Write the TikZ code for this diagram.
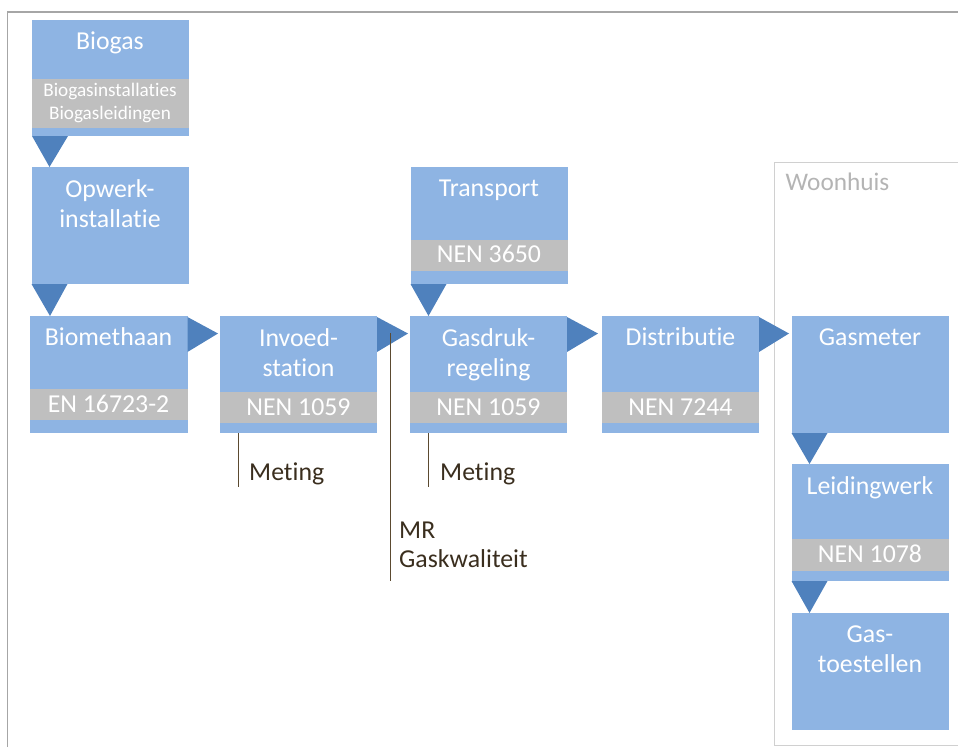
\documentclass[tikz,border=0pt]{standalone}
\usepackage{fontspec}
\setmainfont[Ligatures={NoCommon}]{Carlito}
\usetikzlibrary{calc}
\definecolor{boxblue}{HTML}{8EB4E3}
\definecolor{triblue}{HTML}{4F81BD}
\definecolor{bandgrey}{HTML}{BFBFBF}
\definecolor{calline}{HTML}{5B4A30}
\definecolor{caltext}{HTML}{3A2E1E}
\definecolor{framegrey}{HTML}{A6A6A6}
\definecolor{housegrey}{HTML}{D0D0D0}
\definecolor{housetext}{HTML}{B4B4B4}
\begin{document}
\begin{tikzpicture}[x=1pt,y=-1pt,
  box/.style={fill=boxblue, draw=none, anchor=north west, minimum width=157pt, minimum height=117pt, inner sep=0pt, outer sep=0pt},
  band/.style={fill=bandgrey, draw=none, anchor=north west, minimum width=157pt, inner sep=0pt, outer sep=0pt},
  ttl/.style={text=white, font=\fontsize{25.8}{30}\selectfont, inner sep=0pt, anchor=base},
  small/.style={text=white, font=\fontsize{19.2}{22}\selectfont, inner sep=0pt, anchor=base},
  tri/.style={fill=triblue, draw=none},
  callout/.style={draw=calline, line width=1.2pt},
  caltxt/.style={text=caltext, font=\fontsize{25.8}{30}\selectfont, inner sep=0pt, anchor=base west},
]
\useasboundingbox (0,0) rectangle (958,747);
% outer frame
\draw[framegrey, line width=1.5pt] (7.5,747) -- (7.5,12) -- (958,12);
% Woonhuis frame
\draw[housegrey, line width=1pt] (958,162.5) -- (774.5,162.5) -- (774.5,745.5) -- (958,745.5);
\node[text=housetext, font=\fontsize{25.3}{30}\selectfont, inner sep=0pt, anchor=base west] (woon) at (785.5,190) {Woonhuis};

% boxes
\node[box, minimum height=116pt] (biogas) at (31.5,20) {};
\node[box] (opwerk) at (31.5,167) {};
\node[box, minimum width=158pt] (biometh) at (29.5,316) {};
\node[box] (invoed) at (220,316) {};
\node[box] (gasdruk) at (410,316) {};
\node[box] (distrib) at (602,316) {};
\node[box] (transport) at (410.5,167) {};
\node[box] (gasmeter) at (791.5,316) {};
\node[box] (leiding) at (791.5,464) {};
\node[box] (gastoest) at (791.5,613) {};

% grey bands
\node[band, minimum height=49pt] (biogasB) at (31.5,79) {};
\node[band, minimum width=158pt, minimum height=31pt] (biomethB) at (29.5,389) {};
\node[band, minimum height=31pt] (invoedB) at (220,392) {};
\node[band, minimum height=31pt] (gasdrukB) at (410,392) {};
\node[band, minimum height=31pt] (distribB) at (602,392) {};
\node[band, minimum height=31pt] (transportB) at (410.5,240) {};
\node[band, minimum height=32pt] (leidingB) at (791.5,538.5) {};

% titles
\node[ttl] (biogasT) at ($(biogas.north)+(0,29.5)$) {Biogas};
\node[ttl] (opwerkT1) at ($(opwerk.north)+(0,30)$) {Opwerk-};
\node[ttl] (opwerkT2) at ($(opwerk.north)+(0,60)$) {installatie};
\node[ttl] (biomethT) at ($(biometh.north)+(0,29.7)$) {Biomethaan};
\node[ttl] (invoedT1) at ($(invoed.north)+(0,30)$) {Invoed-};
\node[ttl] (invoedT2) at ($(invoed.north)+(0,60)$) {station};
\node[ttl] (gasdrukT1) at ($(gasdruk.north)+(0,30)$) {Gasdruk-};
\node[ttl] (gasdrukT2) at ($(gasdruk.north)+(0,60)$) {regeling};
\node[ttl] (distribT) at ($(distrib.north)+(0,29.5)$) {Distributie};
\node[ttl] (transportT) at ($(transport.north)+(0,29.7)$) {Transport};
\node[ttl] (gasmeterT) at ($(gasmeter.north)+(0,29.5)$) {Gasmeter};
\node[ttl] (leidingT) at ($(leiding.north)+(0,30)$) {Leidingwerk};
\node[ttl] (gastoestT1) at ($(gastoest.north)+(0,29.5)$) {Gas-};
\node[ttl] (gastoestT2) at ($(gastoest.north)+(0,59)$) {toestellen};

% band texts
\node[small] (biogasS1) at ($(biogasB.north)+(0,17.7)$) {Biogasinstallaties};
\node[small] (biogasS2) at ($(biogasB.north)+(0,40)$) {Biogasleidingen};
\node[ttl] (biomethS) at ($(biomethB.north)+(0,23)$) {EN 16723-2};
\node[ttl] (invoedS) at ($(invoedB.north)+(0,23.3)$) {NEN 1059};
\node[ttl] (gasdrukS) at ($(gasdrukB.north)+(0,23.3)$) {NEN 1059};
\node[ttl] (distribS) at ($(distribB.north)+(0,23.3)$) {NEN 7244};
\node[ttl] (transportS) at ($(transportB.north)+(0,22.7)$) {NEN 3650};
\node[ttl] (leidingS) at ($(leidingB.north)+(0,23.5)$) {NEN 1078};

% downward triangles
\fill[tri] ($(biogas.south west)+(0.5,0)$) -- ($(biogas.south west)+(36.5,0)$) -- ($(opwerk.north west)+(18,0)$) -- cycle;
\fill[tri] (opwerk.south west) -- ($(opwerk.south west)+(36,0)$) -- ($(biometh.north west)+(20.5,0)$) -- cycle;
\fill[tri] (transport.south west) -- ($(transport.south west)+(36,0)$) -- ($(gasdruk.north west)+(18.5,0)$) -- cycle;
\fill[tri] (gasmeter.south west) -- ($(gasmeter.south west)+(36,0)$) -- ($(leiding.north west)+(18,0)$) -- cycle;
\fill[tri] (leiding.south west) -- ($(leiding.south west)+(36,0)$) -- ($(gastoest.north west)+(18,0)$) -- cycle;

% rightward triangles
\fill[tri] ($(biometh.north east)+(0,1)$) -- ($(biometh.north east)+(0,36)$) -- ($(invoed.north west)+(-2,17.5)$) -- cycle;
\fill[tri] ($(invoed.north east)+(0,1)$) -- ($(invoed.north east)+(0,36)$) -- ($(gasdruk.north west)+(-2,17.5)$) -- cycle;
\fill[tri] ($(gasdruk.north east)+(0,1)$) -- ($(gasdruk.north east)+(0,36)$) -- ($(distrib.north west)+(-4,17.5)$) -- cycle;
\fill[tri] ($(distrib.north east)+(0,1)$) -- ($(distrib.north east)+(0,36)$) -- ($(gasmeter.north west)+(-2.5,17.5)$) -- cycle;

% callouts
\coordinate (m1b) at ($(invoed.south west)+(18.7,54)$);
\draw[callout] ($(invoed.south west)+(18.7,0)$) -- (m1b);
\node[caltxt] (meting1) at (249,480) {Meting};
\coordinate (m2b) at ($(gasdruk.south west)+(18.7,54)$);
\draw[callout] ($(gasdruk.south west)+(18.7,0)$) -- (m2b);
\node[caltxt] (meting2) at (440,480) {Meting};
\coordinate (mrt) at (390.3,333);
\coordinate (mrb) at (390.3,581);
\draw[callout] (mrt) -- (mrb);
\node[caltxt] (mr1) at (399,538) {MR};
\node[caltxt] (mr2) at (399,567.7) {Gaskwaliteit};
\end{tikzpicture}
\end{document}
